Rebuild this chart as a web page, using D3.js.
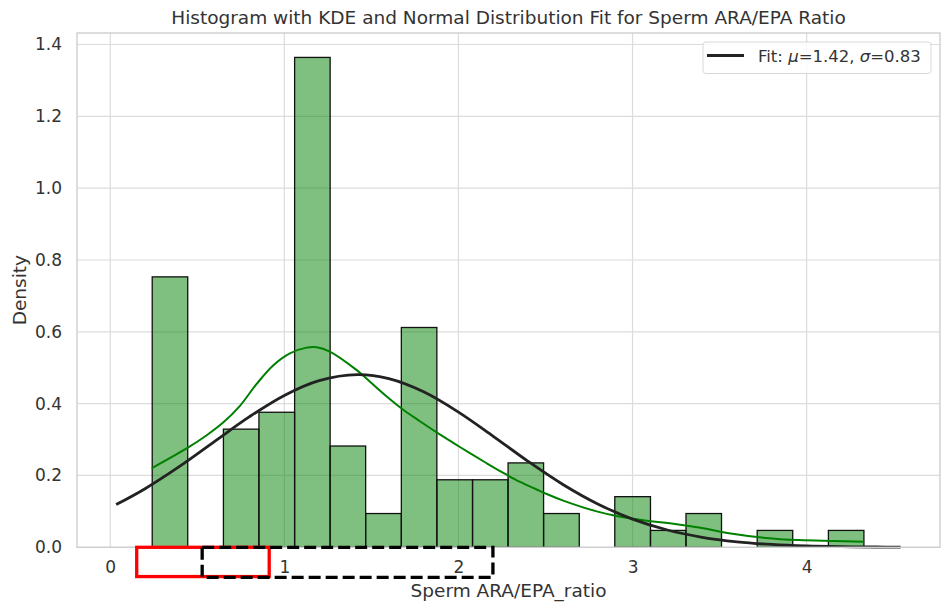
<!DOCTYPE html>
<html>
<head>
<meta charset="utf-8">
<script src="https://cdn.jsdelivr.net/npm/d3@7/dist/d3.min.js"></script>
<style>
  html, body { margin: 0; padding: 0; background: #fff; }
  svg { display: block; font-family: "DejaVu Sans", sans-serif; }
</style>
</head>
<body>
<svg id="chart" width="943" height="605"></svg>
<script>
// ---------------- DATA ----------------
const binEdges = [0.241, 0.445, 0.650, 0.854, 1.059, 1.263, 1.467, 1.672, 1.876, 2.081, 2.285,
                  2.489, 2.694, 2.898, 3.103, 3.307, 3.511, 3.716, 3.920, 4.125, 4.329];
const binDensity = [0.753, 0, 0.329, 0.376, 1.364, 0.282, 0.094, 0.612, 0.188, 0.188,
                    0.235, 0.094, 0, 0.141, 0.047, 0.094, 0, 0.047, 0, 0.047];

const kdeX = [0.238, 0.448, 0.554, 0.650, 0.745, 0.841, 0.937, 1.032, 1.128, 1.186, 1.261, 1.414,
              1.492, 1.588, 1.683, 1.779, 1.875, 1.970, 2.066, 2.162, 2.258, 2.354, 2.449, 2.507,
              2.602, 2.698, 2.794, 2.889, 2.985, 3.081, 3.177, 3.273, 3.383, 3.574, 3.765, 3.956,
              4.147, 4.329];
const kdeY = [0.220, 0.278, 0.312, 0.348, 0.394, 0.455, 0.507, 0.540, 0.556, 0.557, 0.545, 0.494,
              0.461, 0.420, 0.383, 0.351, 0.320, 0.291, 0.262, 0.234, 0.207, 0.182, 0.161, 0.1485,
              0.130, 0.114, 0.100, 0.089, 0.0807, 0.074, 0.069, 0.063, 0.055, 0.038, 0.026, 0.020,
              0.0175, 0.0156];

const fitX = [0.034, 0.2, 0.4, 0.6, 0.8, 1.0, 1.2, 1.42, 1.6, 1.8, 2.0, 2.2, 2.4, 2.6, 2.8,
              3.0, 3.2, 3.4, 3.6, 3.8, 4.0, 4.2, 4.4, 4.54];
const fitY = [0.1189, 0.1632, 0.2259, 0.2951, 0.3637, 0.4229, 0.4641, 0.4807, 0.4695, 0.4329, 0.3765,
              0.3091, 0.2394, 0.1750, 0.1207, 0.0785, 0.0482, 0.0279, 0.0153, 0.0079, 0.0038,
              0.0018, 0.0008, 0.0004];

const xTicks = [0, 1, 2, 3, 4];
const yTicks = [0.0, 0.2, 0.4, 0.6, 0.8, 1.0, 1.2, 1.4];
const legendLabel = "Fit: μ=1.42, σ=0.83";
const titleText = "Histogram with KDE and Normal Distribution Fit for Sperm ARA/EPA Ratio";
const xLabelText = "Sperm ARA/EPA_ratio";
const yLabelText = "Density";

// annotation boxes (data units): [x0, x1, y0, y1]
const redBox = [0.152, 0.913, 0.0, -0.0815];
const dashBox = [0.528, 2.198, 0.0, -0.0835];

// ---------------- LAYOUT ----------------
const plot = { left: 77, right: 940, top: 33, bottom: 547.3 };
const svg = d3.select("#chart");

const x = d3.scaleLinear().domain([-0.191, 4.766]).range([plot.left, plot.right]);
const y = d3.scaleLinear().domain([0, 1.432]).range([plot.bottom, plot.top]);

const gridColor = "#dcdcdc";
const textColor = "#333333";

// grid
const grid = svg.append("g");
grid.selectAll("line.gx").data(xTicks).enter().append("line")
  .attr("x1", d => x(d)).attr("x2", d => x(d))
  .attr("y1", plot.top).attr("y2", plot.bottom)
  .attr("stroke", gridColor).attr("stroke-width", 1.2);
grid.selectAll("line.gy").data(yTicks).enter().append("line")
  .attr("x1", plot.left).attr("x2", plot.right)
  .attr("y1", d => y(d)).attr("y2", d => y(d))
  .attr("stroke", gridColor).attr("stroke-width", 1.2);

// bars
const bars = binDensity.map((d, i) => ({ x0: binEdges[i], x1: binEdges[i + 1], d }))
  .filter(b => b.d > 0);
svg.append("g").selectAll("rect").data(bars).enter().append("rect")
  .attr("x", b => x(b.x0))
  .attr("width", b => x(b.x1) - x(b.x0))
  .attr("y", b => y(b.d))
  .attr("height", b => y(0) - y(b.d))
  .attr("fill", "green").attr("fill-opacity", 0.5)
  .attr("stroke", "#111").attr("stroke-width", 1.3);

// KDE line
const line = d3.line().x(d => x(d[0])).y(d => y(d[1])).curve(d3.curveCatmullRom.alpha(0.5));
const kdeData = kdeX.map((v, i) => [v, kdeY[i]]);
svg.append("path").datum(kdeData).attr("d", line)
  .attr("fill", "none").attr("stroke", "green").attr("stroke-width", 2);

// Fit line
const fitData = fitX.map((v, i) => [v, fitY[i]]);
svg.append("path").datum(fitData).attr("d", line)
  .attr("fill", "none").attr("stroke", "#222").attr("stroke-width", 2.8);

// spines
svg.append("rect")
  .attr("x", plot.left).attr("y", plot.top)
  .attr("width", plot.right - plot.left).attr("height", plot.bottom - plot.top)
  .attr("fill", "none").attr("stroke", "#cfcfcf").attr("stroke-width", 1.4);

// axes tick labels via d3 axes
const xAxis = d3.axisBottom(x).tickValues(xTicks).tickFormat(d3.format("d")).tickSize(0).tickPadding(14);
const gx = svg.append("g").attr("transform", `translate(0,${plot.bottom})`).call(xAxis);
gx.select(".domain").remove();
gx.selectAll("text").attr("fill", textColor).style("font-size", "17px")
  .style("font-family", "DejaVu Sans, sans-serif");

const yAxis = d3.axisLeft(y).tickValues(yTicks).tickFormat(d3.format(".1f")).tickSize(0).tickPadding(15);
const gy = svg.append("g").attr("transform", `translate(${plot.left},0)`).call(yAxis);
gy.select(".domain").remove();
gy.selectAll("text").attr("fill", textColor).style("font-size", "17px")
  .style("font-family", "DejaVu Sans, sans-serif");

// annotation boxes
function boxPath(b) {
  return { x: x(b[0]), y: y(b[2]), w: x(b[1]) - x(b[0]), h: y(b[3]) - y(b[2]) };
}
const rb = boxPath(redBox);
svg.append("rect").attr("x", rb.x).attr("y", rb.y).attr("width", rb.w).attr("height", rb.h)
  .attr("fill", "none").attr("stroke", "red").attr("stroke-width", 3.3);
const db = boxPath(dashBox);
svg.append("rect").attr("x", db.x).attr("y", db.y).attr("width", db.w).attr("height", db.h)
  .attr("fill", "none").attr("stroke", "#000").attr("stroke-width", 3.3)
  .attr("stroke-dasharray", "12,5");

// title & labels
svg.append("text").attr("x", (plot.left + plot.right) / 2).attr("y", 23.5)
  .attr("text-anchor", "middle").attr("fill", textColor).style("font-size", "18.5px")
  .text(titleText);
svg.append("text").attr("x", (plot.left + plot.right) / 2).attr("y", 597)
  .attr("text-anchor", "middle").attr("fill", textColor).style("font-size", "18.5px")
  .text(xLabelText);
svg.append("text").attr("transform", `translate(26,${(plot.top + plot.bottom) / 2}) rotate(-90)`)
  .attr("text-anchor", "middle").attr("fill", textColor).style("font-size", "18.5px")
  .text(yLabelText);

// legend
const lg = svg.append("g").attr("transform", "translate(703,42)");
lg.append("rect").attr("width", 228).attr("height", 31.5).attr("rx", 3)
  .attr("fill", "#fff").attr("fill-opacity", 0.85).attr("stroke", "#d8d8d8").attr("stroke-width", 1);
lg.append("line").attr("x1", 4).attr("x2", 41).attr("y1", 13.5).attr("y2", 13.5)
  .attr("stroke", "#222").attr("stroke-width", 2.8);
const parts = legendLabel.split(/([μσ])/);
const lt = lg.append("text").attr("x", 55).attr("y", 20).attr("fill", textColor).style("font-size", "16.5px");
parts.forEach(p => {
  if (!p) return;
  lt.append("tspan").style("font-style", (p === "μ" || p === "σ") ? "italic" : "normal").text(p);
});
</script>
</body>
</html>
